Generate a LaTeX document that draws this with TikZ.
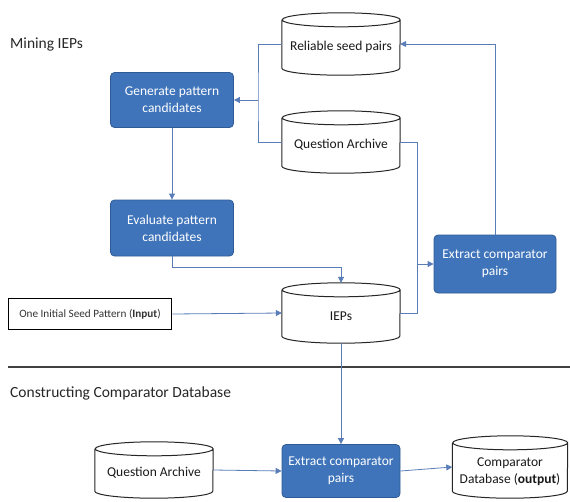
\documentclass[tikz,border=0pt]{standalone}
\usepackage{fontspec}
\setmainfont{Carlito}
\usetikzlibrary{arrows.meta}
\definecolor{boxblue}{HTML}{3F74BA}
\definecolor{boxedge}{HTML}{2F5C97}
\definecolor{linkblue}{HTML}{5A7DB8}
\tikzset{
  procbox/.style={rectangle, rounded corners=4pt, fill=boxblue, draw=boxedge, line width=0.8pt,
    text=white, align=center, font=\fontsize{13.5}{17}\selectfont, inner sep=0pt},
  dbbox/.style={rectangle, draw=none, align=center, font=\fontsize{13.5}{17}\selectfont, inner sep=0pt,
    minimum width=118pt},
  dbtext/.style={font=\fontsize{13.5}{17}\selectfont, align=center, text=black!90},
  conn/.style={draw=linkblue, line width=0.8pt},
  arr/.style={conn, -{Triangle[length=6pt,width=6pt]}, color=linkblue},
  cylline/.style={draw=black!85, line width=1pt, fill=white},
  heading/.style={font=\fontsize{15.5}{18}\selectfont, anchor=west, text=black!85, inner sep=0pt},
}
\begin{document}
\begin{tikzpicture}[x=1pt,y=1pt]
\useasboundingbox (0,0) rectangle (570,-501);
% headings
\node[heading] (h1) at (10,-44) {Mining IEPs};
\node[heading] (h2) at (10,-393) {Constructing Comparator Database};
\draw[black!75, line width=1.3pt] (8,-367) -- (570,-367);
% database nodes (placeholders, drawn below)
\node[dbbox, minimum height=62pt] (rsp) at (341,-44) {};
\node[dbbox, minimum height=62pt] (qa1) at (341,-142) {};
\node[dbbox, minimum height=60pt] (iep) at (341,-313) {};
\node[dbbox, minimum height=56pt] (qa2) at (154,-470) {};
\node[dbbox, minimum height=62pt, minimum width=115pt] (cdb) at (510,-467) {};
\foreach \n/\w in {rsp/118,qa1/118,iep/118,qa2/118,cdb/115}{
  \draw[cylline] ([yshift=-7pt]\n.north west) -- ([yshift=7pt]\n.south west)
    arc[start angle=180,end angle=360,x radius=\w/2,y radius=7]
    -- ([yshift=-7pt]\n.north east)
    arc[start angle=0,end angle=360,x radius=\w/2,y radius=7];
}
\node[dbtext] at ([yshift=-3pt]rsp.center) {Reliable seed pairs};
\node[dbtext] at ([yshift=-3pt]qa1.center) {Question Archive};
\node[dbtext] at ([yshift=-3pt]iep.center) {IEPs};
\node[dbtext] at ([yshift=-3pt]qa2.center) {Question Archive};
\node[dbtext] at ([yshift=-5pt]cdb.center) {Comparator\\Database (\textbf{output})};
% process boxes
\node[procbox, minimum width=123pt, minimum height=55pt] (gen) at (172,-100) {Generate pattern\\candidates};
\node[procbox, minimum width=123pt, minimum height=56pt] (eval) at (172,-228) {Evaluate pattern\\candidates};
\node[procbox, minimum width=122pt, minimum height=58pt] (ext1) at (495,-264) {Extract comparator\\pairs};
\node[procbox, minimum width=118pt, minimum height=53pt] (ext2) at (341,-471) {Extract comparator\\pairs};
% input box
\node[draw=black, line width=1.8pt, minimum width=163pt, minimum height=31pt, inner sep=0pt,
  font=\fontsize{11.2}{13}\selectfont, text=black!80] (seed) at (90,-314) {One Initial Seed Pattern (\textbf{Input})};
% connectors
\coordinate (j) at (258,-100);
\coordinate (m) at (417,-264);
\draw[conn] (rsp.west) -| (j) |- (qa1.west);
\draw[arr] (j) -- (gen.east);
\draw[arr] (gen.south) -- (eval.north);
\draw[arr] (eval.south) -- ++(0,-11) -| (iep.north);
\draw[conn] (qa1.east) -| (m);
\draw[conn] (iep.east) -| (m);
\draw[arr] (m) -- (ext1.west);
\draw[arr] (ext1.north) |- (rsp.east);
\draw[arr] (seed.east) -- (iep.west);
\draw[arr] (iep.south) -- (ext2.north);
\draw[arr] (qa2.east) -- (ext2.west);
\draw[arr] (ext2.east) -- (cdb.west);
\end{tikzpicture}
\end{document}
